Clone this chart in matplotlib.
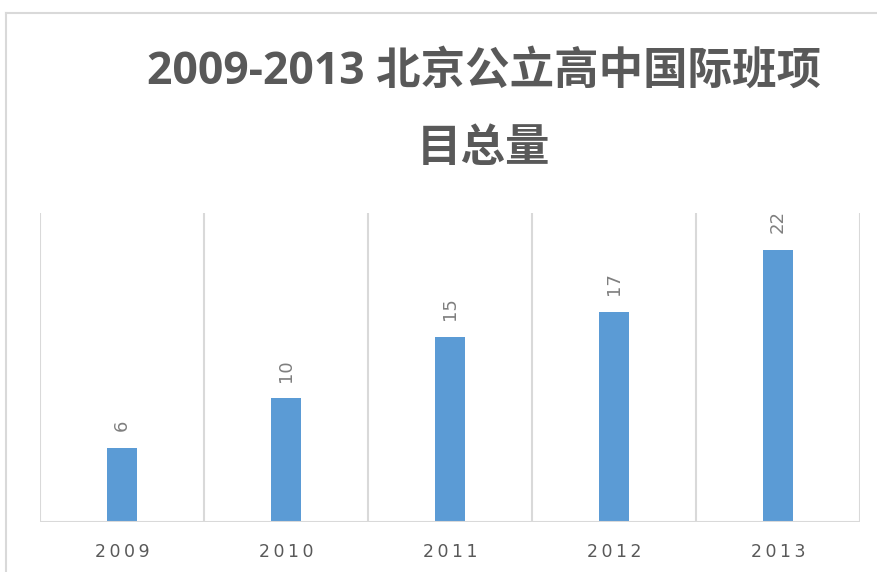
import matplotlib
matplotlib.use("Agg")
import matplotlib.pyplot as plt
from matplotlib.lines import Line2D

plt.rcParams['font.family'] = ['Noto Sans CJK SC', 'DejaVu Sans']

title = "2009-2013 北京公立高中国际班项\n目总量"
years = ["2009", "2010", "2011", "2012", "2013"]
counts = [6, 10, 15, 17, 22]

W, H = 877, 572
fig = plt.figure(figsize=(W / 100, H / 100), dpi=100)
fig.patch.set_facecolor("white")

# outer chart border (top & left visible)
bc = "#d9d9d9"
fig.add_artist(Line2D([6 / W, 1.0], [1 - 13 / H, 1 - 13 / H], color=bc, lw=1.5, transform=fig.transFigure))
fig.add_artist(Line2D([6 / W, 6 / W], [0, 1 - 13 / H], color=bc, lw=1.5, transform=fig.transFigure))

ax = fig.add_axes([40 / W, 50 / H, 820 / W, 309 / H])
x = list(range(len(years)))
ax.bar(x, counts, width=30 / 164, color="#5b9bd5", zorder=3)
ax.set_xlim(-0.5, len(years) - 0.5)
ax.set_ylim(0, 25)

for i in range(len(years) + 1):
    ax.axvline(i - 0.5, color=bc, lw=1.5, zorder=1)
for s in ax.spines.values():
    s.set_visible(False)
ax.axhline(0, color=bc, lw=1.5, zorder=4)

ax.set_yticks([])
ax.set_xticks(x)
ax.set_xticklabels(["\u2009".join(y) for y in years], family=['DejaVu Sans'], fontsize=12.5, color="#595959")
ax.tick_params(axis='x', length=0, pad=15)

for xi, v in zip(x, counts):
    ax.annotate(str(v), (xi, v), xytext=(0, 12), textcoords="offset points",
                rotation=90, ha="center", va="bottom", fontsize=13,
                color="#7f7f7f", family=['DejaVu Sans'])

fig.text(484 / W, 1 - 111 / H, title, ha="center", va="center", fontsize=32,
         fontweight="bold", color="#595959", linespacing=1.95,
         family=['Open Sans', 'Noto Sans CJK SC'])

fig.savefig("out.png", dpi=100)
